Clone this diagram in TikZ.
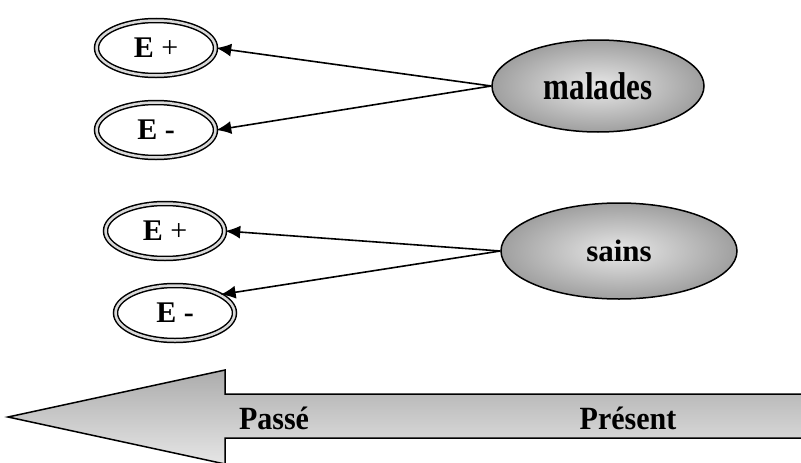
\documentclass[tikz,border=0pt]{standalone}
\usepackage{fontspec}
\setmainfont{Liberation Serif}
\usepackage{graphicx}
\usetikzlibrary{shapes.geometric,arrows.meta}

\begin{document}
\begin{tikzpicture}[x=1pt,y=-1pt,>={Latex[length=15pt,width=13pt]},
    expo/.style={ellipse, draw, line width=1.5pt, double=gray!30,
      double distance=2.5pt, fill=white, minimum width=119pt,
      minimum height=55pt, font=\fontsize{30}{34}\selectfont},
    groupe/.style={ellipse, draw, line width=1.5pt, shading=radial,
      inner color=gray!18, outer color=gray!75,
      font=\bfseries\fontsize{31}{36}\selectfont},
    lien/.style={->, line width=1.6pt},
    temps/.style={font=\bfseries\fontsize{30}{34}\selectfont}]
    \useasboundingbox (0,0) rectangle (801,463);
    % groupes
    \node[groupe,minimum width=212pt,minimum height=92pt] (malades) at (598,86) {\scalebox{1}[1.25]{malades}};
    \node[groupe,minimum width=236pt,minimum height=96pt] (sains) at (619,251) {sains};
    % exposition
    \node[expo] (ep1) at (156,48) {\textbf{E} +};
    \node[expo] (em1) at (156,130) {\textbf{E -}};
    \node[expo] (ep2) at (165,231) {\textbf{E} +};
    \node[expo] (em2) at (175,313) {\textbf{E -}};
    \draw[lien] (malades.west) -- (ep1.east);
    \draw[lien] (malades.west) -- (em1.east);
    \draw[lien] (sains.west) -- (ep2.east);
    \draw[lien] (sains.west) -- (em2.22);
    % fleche du temps
    \draw[line width=1.5pt, top color=gray!65, bottom color=gray!20]
      (806,394) -- (225,394) -- (225,370) -- (8,417) -- (225,464)
      -- (225,438) -- (806,438) -- cycle;
    \node[temps] (passe) at (274,418) {\scalebox{1}[1.08]{Passé}};
    \node[temps] (present) at (628,418) {\scalebox{1}[1.08]{Présent}};
\end{tikzpicture}
\end{document}
